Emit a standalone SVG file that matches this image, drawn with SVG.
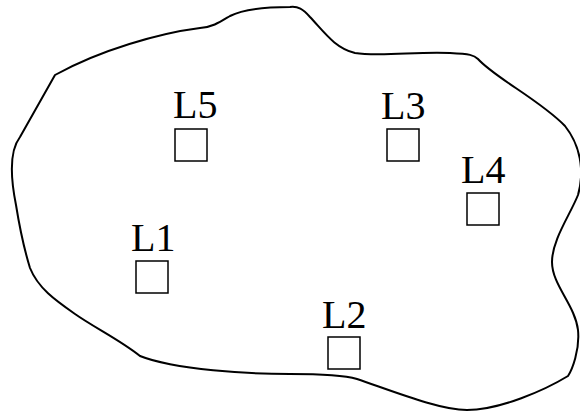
<svg xmlns="http://www.w3.org/2000/svg" width="580" height="412" viewBox="0 0 580 412">
<style>
.region{fill:none;stroke:#000;stroke-width:2;stroke-linejoin:round}
.box{fill:#fff;stroke:#000;stroke-width:1.5}
.lbl{font-family:"Liberation Serif","Times New Roman",serif;font-size:40px;fill:#000}
</style>
<rect width="580" height="412" fill="#fff"/>
<g id="region">
<path class="region" d="M 290 7 C 298 6, 303 9, 310 17 C 325 33, 335 48, 355 53 C 380 57, 420 51, 450 53 C 470 54, 474 55, 478 59 C 495 78, 540 100, 565 126 C 580 145, 585 170, 578 195 C 570 215, 552 240, 552 262 C 552 285, 575 305, 578 330 C 580 350, 572 370, 568 376 C 545 390, 500 410, 467 410 C 440 410, 395 392, 357 379 C 340 374, 310 374, 290 374 C 250 374, 175 370, 140 356 C 120 340, 95 328, 75 314 C 55 300, 38 288, 30 268 C 26 255, 20 230, 16 205 C 10 175, 10 150, 20 137 L 55 75 C 100 50, 160 33, 200 28 C 213 27, 220 22, 230 16 C 245 8, 270 7, 290 7 Z"/>
</g>
<g id="L5"><rect class="box" x="175" y="129" width="32" height="32"/><text class="lbl" x="173" y="118">L5</text></g>
<g id="L3"><rect class="box" x="387" y="129" width="32" height="32"/><text class="lbl" x="381" y="119">L3</text></g>
<g id="L4"><rect class="box" x="467" y="193" width="32" height="32"/><text class="lbl" x="461" y="183">L4</text></g>
<g id="L1"><rect class="box" x="136" y="261" width="32" height="32"/><text class="lbl" x="131" y="251">L1</text></g>
<g id="L2"><rect class="box" x="328" y="337" width="32" height="32"/><text class="lbl" x="322" y="328">L2</text></g>
<g id="connectors"/>
</svg>
